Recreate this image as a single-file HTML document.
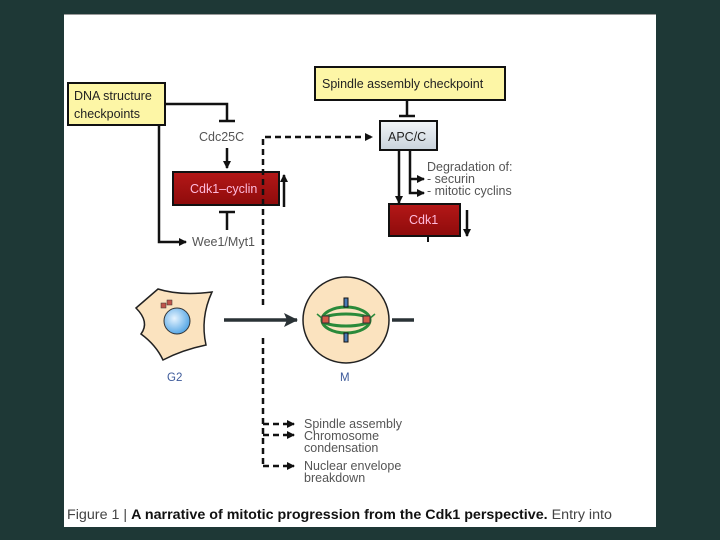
<!DOCTYPE html>
<html><head><style>
html,body{margin:0;padding:0;width:720px;height:540px;background:#1e3836;overflow:hidden}
svg{display:block}
text{font-family:"Liberation Sans",sans-serif}
</style></head><body>
<svg width="720" height="540" viewBox="0 0 720 540">
<defs>
<marker id="a" markerWidth="8" markerHeight="8" refX="7" refY="4" orient="auto" markerUnits="userSpaceOnUse"><path d="M0,0 L8,4 L0,8z" fill="#111"/></marker>
<marker id="b" markerWidth="14" markerHeight="14" refX="13" refY="7" orient="auto" markerUnits="userSpaceOnUse"><path d="M0,0 L14,7 L0,14 L3,7z" fill="#2a3236"/></marker>
<linearGradient id="apc" x1="0" y1="0" x2="0" y2="1"><stop offset="0" stop-color="#f2f5f8"/><stop offset="1" stop-color="#c9d3dc"/></linearGradient>
<linearGradient id="red" x1="0" y1="0" x2="0" y2="1"><stop offset="0" stop-color="#b41818"/><stop offset="1" stop-color="#8e0b0b"/></linearGradient>
<radialGradient id="nuc" cx="0.4" cy="0.4" r="0.6"><stop offset="0" stop-color="#e6f4ff"/><stop offset="1" stop-color="#5aa9e6"/></radialGradient>
</defs>
<rect x="64" y="14" width="592" height="513" fill="#fff"/>
<line x1="64" y1="14.5" x2="656" y2="14.5" stroke="#999"/>
<g stroke="#111" stroke-width="2.5" fill="none">
<rect x="68" y="83" width="97" height="42" fill="#fdf6a6" stroke-width="2"/>
<polyline points="165,104 227,104 227,121"/>
<line x1="219" y1="121" x2="235" y2="121"/>
<line x1="227" y1="148" x2="227" y2="168" marker-end="url(#a)"/>
<line x1="227" y1="230" x2="227" y2="212"/>
<line x1="219" y1="212" x2="235" y2="212"/>
<line x1="284" y1="207" x2="284" y2="175" marker-end="url(#a)"/>
<polyline points="159,125 159,242 186,242" marker-end="url(#a)"/>
<rect x="315" y="67" width="190" height="33" fill="#fdf6a6" stroke-width="2"/>
<line x1="407" y1="100" x2="407" y2="116"/>
<line x1="399" y1="116" x2="415" y2="116"/>
<rect x="380" y="121" width="57" height="29" fill="url(#apc)" stroke-width="2"/>
<line x1="399" y1="150" x2="399" y2="203" marker-end="url(#a)"/>
<polyline points="410,150 410,193 424,193" marker-end="url(#a)"/>
<line x1="410" y1="179" x2="424" y2="179" marker-end="url(#a)"/>
<line x1="467" y1="210" x2="467" y2="236" marker-end="url(#a)"/>
<line x1="428" y1="236" x2="428" y2="242" stroke-width="2"/>
</g>
<rect x="173" y="172" width="106" height="33" fill="url(#red)" stroke="#111" stroke-width="2"/>
<rect x="389" y="204" width="71" height="32" fill="url(#red)" stroke="#111" stroke-width="2"/>
<g stroke="#111" stroke-width="2.5" fill="none" stroke-dasharray="6,4">
<polyline points="263,305 263,137 372,137" marker-end="url(#a)"/>
<polyline points="263,338 263,466"/>
<line x1="263" y1="424" x2="294" y2="424" marker-end="url(#a)"/>
<line x1="263" y1="435" x2="294" y2="435" marker-end="url(#a)"/>
<line x1="263" y1="466" x2="294" y2="466" marker-end="url(#a)"/>
</g>
<g font-size="12.5" fill="#222">
<text x="74" y="100">DNA structure</text>
<text x="74" y="118">checkpoints</text>
<text x="322" y="88">Spindle assembly checkpoint</text>
<text x="388" y="141">APC/C</text>
<text x="199" y="141" fill="#555">Cdc25C</text>
<text x="192" y="246" fill="#555">Wee1/Myt1</text>
<text x="427" y="171" fill="#555">Degradation of:</text>
<text x="427" y="183" fill="#555">- securin</text>
<text x="427" y="195" fill="#555">- mitotic cyclins</text>
<text x="304" y="428" fill="#555">Spindle assembly</text>
<text x="304" y="440" fill="#555">Chromosome</text>
<text x="304" y="452" fill="#555">condensation</text>
<text x="304" y="470" fill="#555">Nuclear envelope</text>
<text x="304" y="482" fill="#555">breakdown</text>
<text x="190" y="193" fill="#fbd">Cdk1–cyclin</text>
<text x="409" y="224" fill="#fbd">Cdk1</text>
</g>
<path d="M136,308 L158,289 Q180,296 212,292 Q200,318 206,345 Q182,350 163,360 Q156,345 141,334 Q150,322 136,308 Z" fill="#fbe3bf" stroke="#222" stroke-width="1.5"/>
<circle cx="177" cy="321" r="13" fill="url(#nuc)" stroke="#333"/>
<rect x="161" y="303" width="5" height="5" fill="#c0554a" stroke="#333" stroke-width="0.5"/>
<rect x="167" y="300" width="5" height="5" fill="#c0554a" stroke="#333" stroke-width="0.5"/>
<line x1="224" y1="320" x2="297" y2="320" stroke="#2a3236" stroke-width="3.5" marker-end="url(#b)"/>
<circle cx="346" cy="320" r="43" fill="#fbe3bf" stroke="#222" stroke-width="1.5"/>
<g stroke="#2a8a3a" stroke-width="3" fill="none">
<ellipse cx="346" cy="320" rx="24" ry="13"/>
<ellipse cx="346" cy="320" rx="24" ry="6"/>
<line x1="317" y1="314" x2="330" y2="325" stroke-width="1.5"/>
<line x1="375" y1="314" x2="362" y2="325" stroke-width="1.5"/>
</g>
<rect x="322" y="316" width="7" height="7" fill="#d55a48" stroke="#333"/>
<rect x="363" y="316" width="7" height="7" fill="#d55a48" stroke="#333"/>
<rect x="344" y="298" width="4" height="9" fill="#4a7ab5" stroke="#111"/>
<rect x="344" y="333" width="4" height="9" fill="#4a7ab5" stroke="#111"/>
<line x1="392" y1="320" x2="414" y2="320" stroke="#2a3236" stroke-width="3.5"/>
<text x="167" y="381" font-size="11.5" fill="#3d5a9a">G2</text>
<text x="340" y="381" font-size="11.5" fill="#3d5a9a">M</text>
<text x="67" y="519" font-size="13.5" fill="#444" textLength="545" lengthAdjust="spacingAndGlyphs">Figure 1 | <tspan font-weight="bold" fill="#111">A narrative of mitotic progression from the Cdk1 perspective.</tspan> Entry into</text>
</svg>
</body></html>
